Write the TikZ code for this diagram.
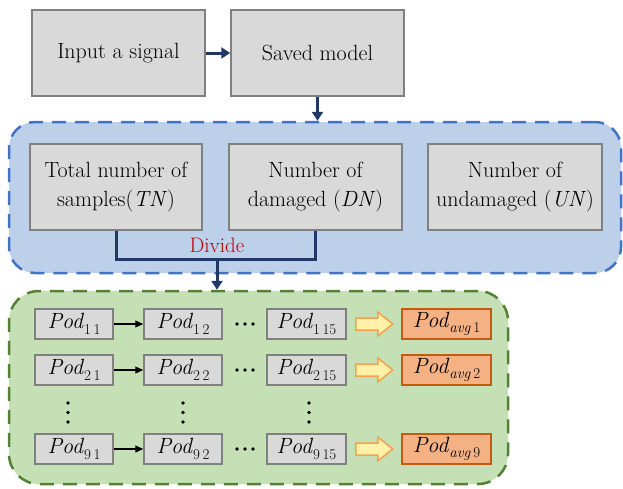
\documentclass[tikz,border=0pt]{standalone}
\usepackage{fontspec}
\usetikzlibrary{arrows.meta}

\definecolor{boxfill}{HTML}{D9D9D9}
\definecolor{boxline}{HTML}{808080}
\definecolor{zoneblue}{HTML}{BCD0EA}
\definecolor{zonebluel}{HTML}{4472C4}
\definecolor{zonegreen}{HTML}{C5E0B4}
\definecolor{zonegreenl}{HTML}{548235}
\definecolor{navyblue}{HTML}{1F3864}
\definecolor{avgfill}{HTML}{F4B183}
\definecolor{avgline}{HTML}{C55A11}
\definecolor{hollowfill}{HTML}{FFF2A8}
\definecolor{hollowline}{HTML}{F4A250}
\definecolor{divred}{HTML}{C00000}

% subscripts of the Pod labels
\newcommand\podsub[1]{\raisebox{-0.25em}{\fontsize{15}{15}\selectfont #1}}
\newcommand\podlabel[2]{\textit{Pod}\podsub{#1\,#2}}

\begin{document}
\begin{tikzpicture}[x=1pt,y=-1pt,
  greybox/.style={draw=boxline, fill=boxfill, line width=1.5pt, align=center,
    inner sep=0pt, font=\fontsize{22}{29}\selectfont},
  bigbox/.style={greybox, minimum height=86pt},
  podbox/.style={draw=boxline, fill=boxfill, line width=1.5pt, inner sep=0pt,
    minimum height=30pt, font=\fontsize{22}{22}\selectfont},
  avgbox/.style={podbox, draw=avgline, fill=avgfill},
  zone/.style={rounded corners=26pt, line width=2.5pt, dash pattern=on 14pt off 9pt,
    inner sep=0pt},
  bluezone/.style={zone, draw=zonebluel, fill=zoneblue},
  greenzone/.style={zone, rounded corners=30pt, draw=zonegreenl, fill=zonegreen},
  navyline/.style={draw=navyblue, line width=3pt},
  navyarrow/.style={navyline, -{Triangle[length=9pt,width=11pt]}},
  podarrow/.style={draw=black, line width=1.3pt, -{Triangle[length=8pt,width=7pt]}},
  hollow/.style={draw=hollowline, fill=hollowfill, line width=1.5pt, line join=miter},
  dotmark/.style={fill=black, draw=none}
]
\useasboundingbox (0,0) rectangle (623,488);

% background zones
\node[bluezone, minimum width=612pt, minimum height=151pt] (cntzone) at (315,197.5) {};
\node[greenzone, minimum width=499pt, minimum height=193pt] (podzone) at (258.5,387.5) {};

% top row
\node[bigbox, minimum width=173pt] (input) at (118.5,53) {Input a signal};
\node[bigbox, minimum width=173pt] (saved) at (317.5,53) {Saved model};
\draw[navyarrow] (input) -- (saved);
\draw[navyarrow] (saved.south) -- (saved.south |- cntzone.north);

% counts
\node[bigbox, minimum width=172pt] (tn) at (116,187) {Total number of\\samples(\textit{TN})};
\node[bigbox, minimum width=173pt] (dn) at (315.5,187) {Number of\\damaged (\textit{DN})};
\node[bigbox, minimum width=174pt] (un) at (515,187) {Number of\\undamaged (\textit{UN})};

% divide bracket
\coordinate (div) at (217,259);
\draw[navyline, line join=miter] (tn.south) -- (tn.south |- div) -- (dn.south |- div) -- (dn.south);
\draw[navyarrow] (div) -- (div |- podzone.north);
\node[text=divred, font=\fontsize{21}{21}\selectfont, inner sep=0pt] (divlabel) at (217,245) {Divide};

% Pod rows
\foreach \r/\y in {1/324, 2/370, 9/449} {
  \node[podbox, minimum width=78pt] (p\r a) at (74,\y) {\podlabel{\r}{1}};
  \node[podbox, minimum width=78pt] (p\r b) at (183,\y) {\podlabel{\r}{2}};
  \node[podbox, minimum width=79pt] (p\r c) at (306.5,\y) {\podlabel{\r}{15}};
  \node[avgbox, minimum width=89pt] (p\r avg) at (446.5,\y) {\textit{Pod}\podsub{\textit{avg}\,\r}};
  \draw[podarrow] (p\r a) -- (p\r b);
  \foreach \dx in {237,245,253} \fill[dotmark] (\dx,\y) circle (1.9pt);
  \draw[hollow, shift={(p\r c.east)}] (9,-6) -- (31,-6) -- (31,-12) -- (46,0)
     -- (31,12) -- (31,6) -- (9,6) -- cycle;
}

% vertical ellipses
\foreach \dx in {68,183,309}
  \foreach \dy in {403,412.5,422} \fill[dotmark] (\dx,\dy) circle (1.9pt);
\end{tikzpicture}
\end{document}
